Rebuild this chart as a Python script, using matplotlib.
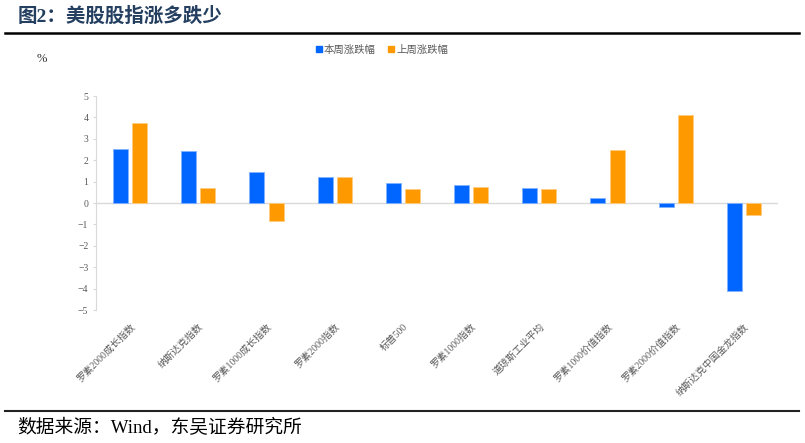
import numpy as np
import matplotlib.pyplot as plt
from matplotlib.lines import Line2D

plt.rcParams['font.family'] = ['Liberation Serif', 'Noto Sans CJK SC', 'DejaVu Sans']

categories = ["罗素2000成长指数", "纳斯达克指数", "罗素1000成长指数", "罗素2000指数",
              "标普500", "罗素1000指数", "道琼斯工业平均", "罗素1000价值指数",
              "罗素2000价值指数", "纳斯达克中国金龙指数"]
this_week = [2.52, 2.43, 1.46, 1.21, 0.95, 0.86, 0.72, 0.23, -0.20, -4.11]
last_week = [3.74, 0.70, -0.86, 1.21, 0.64, 0.73, 0.65, 2.49, 4.13, -0.58]
series_names = ["本周涨跌幅", "上周涨跌幅"]

blue = "#0066FF"
orange = "#FF9900"
grey = "#595959"
light = "#d9d9d9"

fig = plt.figure(figsize=(8.05, 4.43), dpi=100)
W, H = 805, 443

# header / footer
fig.text(18 / W, 1 - 16 / H, "图2：美股股指涨多跌少", fontsize=14, fontweight="bold",
         color="#243F60", va="center", ha="left")
fig.add_artist(Line2D([5 / W, 799 / W], [1 - 33 / H] * 2, color="black", lw=1.8))
fig.add_artist(Line2D([5 / W, 799 / W], [1 - 410.5 / H] * 2, color="#222222", lw=1.5))
fig.text(17 / W, 1 - 428 / H, "数据来源：Wind，东吴证券研究所", fontsize=13.5,
         color="black", va="center", ha="left")
fig.text(42 / W, 1 - 59 / H, "%", fontsize=9, color="#333333", va="center", ha="center")

ax = fig.add_axes([96 / W, 1 - 310 / H, 682 / W, 214 / H])
x = np.arange(len(categories))
off = 0.14
bw = 0.22
ax.bar(x - off, this_week, bw, color=blue, edgecolor="#7fb2ff", linewidth=0.6,
       label=series_names[0], zorder=3)
ax.bar(x + off, last_week, bw, color=orange, edgecolor="#ffcc80", linewidth=0.6,
       label=series_names[1], zorder=3)

ax.set_xlim(-0.5, len(categories) - 0.5)
ax.set_ylim(-5, 5)
ax.set_yticks(np.arange(-5, 6, 1))
ax.tick_params(axis="y", labelsize=7, colors=grey, length=2.5, width=0.8, pad=3)
ax.tick_params(axis="y", color=light)
ax.set_xticks(x + 0.05)
ax.set_xticklabels(categories, rotation=45, ha="right", va="center",
                   rotation_mode="anchor", fontsize=7, color=grey)
ax.tick_params(axis="x", length=0, pad=11)

for s in ["top", "right", "bottom"]:
    ax.spines[s].set_visible(False)
ax.spines["left"].set_color(light)
ax.spines["left"].set_linewidth(0.8)
ax.axhline(0, color=light, lw=1.0, zorder=2)

leg = ax.legend(handles=[
    Line2D([], [], marker="s", ls="", color=blue, markersize=4.5),
    Line2D([], [], marker="s", ls="", color=orange, markersize=4.5)],
    labels=series_names, loc="center", bbox_to_anchor=(382 / W, 1 - 50 / H),
    bbox_transform=fig.transFigure, ncol=2, frameon=False, fontsize=7.5,
    handlelength=0.6, handletextpad=0.2, columnspacing=1.2)
for t in leg.get_texts():
    t.set_color(grey)

fig.savefig("out.png", dpi=100)
